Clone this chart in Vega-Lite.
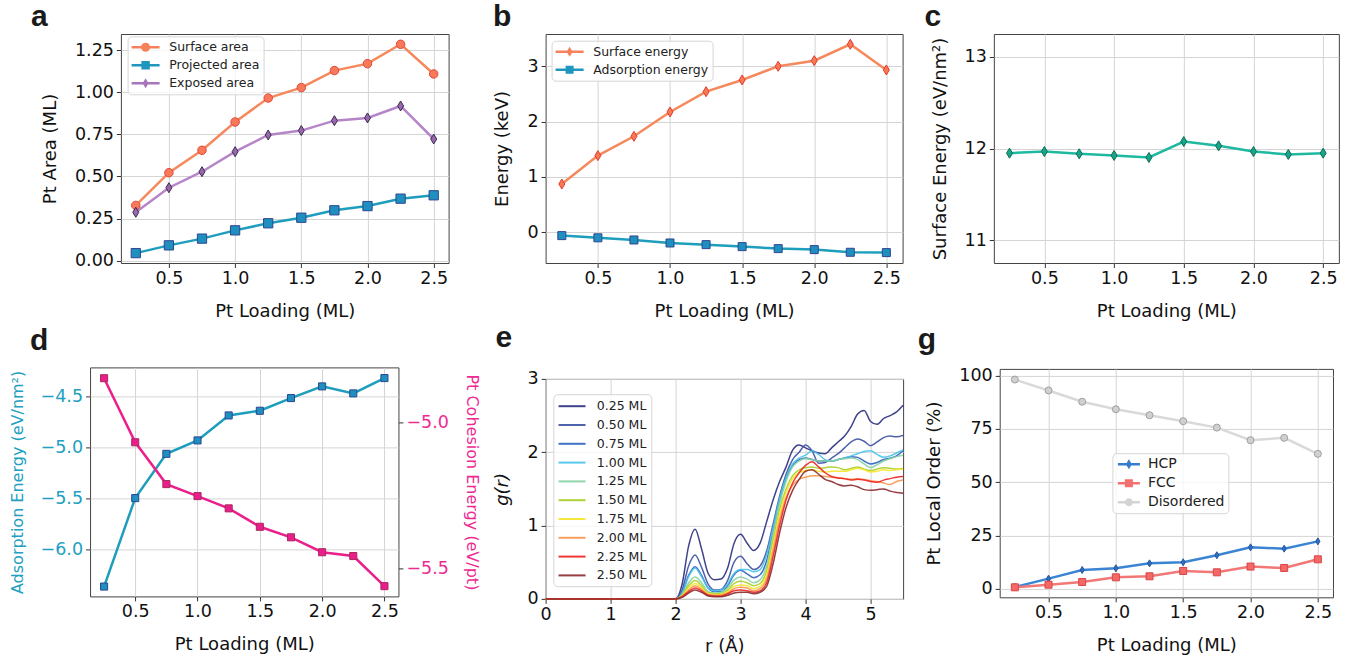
{
"$schema":"https://vega.github.io/schema/vega-lite/v6.json",
"background":"white",
"padding":{"left":8,"top":1,"right":4,"bottom":4},
"config":{
 "font":"DejaVu Sans",
 "view":{"stroke":"#444444","strokeWidth":1},
 "axis":{"domain":false,"grid":true,"gridColor":"#d4d4d4","gridWidth":1,"tickColor":"#333333","tickSize":4.5,"tickWidth":1,"labelFont":"DejaVu Sans","labelFontSize":17.5,"labelColor":"#111111","labelFlush":false,"labelOverlap":false,"titleFont":"DejaVu Sans","titleFontSize":18,"titleFontWeight":"normal","titleColor":"#111111"},
 "axisX":{"labelPadding":2,"titlePadding":15},
 "axisY":{"labelPadding":3,"titlePadding":15},
 "legend":{"labelFont":"DejaVu Sans","labelColor":"#222222"},
 "title":{"font":"Liberation Sans","fontSize":30,"fontWeight":"bold","anchor":"start","frame":"group","baseline":"alphabetic","color":"#1a1a1a"}
},
"spacing":11.6,
"resolve":{"scale":{"color":"independent","fill":"independent","stroke":"independent","shape":"independent","size":"independent"}},
"hconcat":[
 {"vconcat":[
  {"width":327.7,"height":229,
   "title":{"text":"a","dx":-90,"offset":2},
   "data":{"values":[
    {"L":0.25,"series":"Surface area","v":0.328},{"L":0.5,"series":"Surface area","v":0.522},{"L":0.75,"series":"Surface area","v":0.655},{"L":1,"series":"Surface area","v":0.823},{"L":1.25,"series":"Surface area","v":0.965},{"L":1.5,"series":"Surface area","v":1.027},{"L":1.75,"series":"Surface area","v":1.128},{"L":2,"series":"Surface area","v":1.169},{"L":2.25,"series":"Surface area","v":1.284},{"L":2.5,"series":"Surface area","v":1.108},
    {"L":0.25,"series":"Projected area","v":0.045},{"L":0.5,"series":"Projected area","v":0.091},{"L":0.75,"series":"Projected area","v":0.131},{"L":1,"series":"Projected area","v":0.18},{"L":1.25,"series":"Projected area","v":0.222},{"L":1.5,"series":"Projected area","v":0.255},{"L":1.75,"series":"Projected area","v":0.299},{"L":2,"series":"Projected area","v":0.324},{"L":2.25,"series":"Projected area","v":0.368},{"L":2.5,"series":"Projected area","v":0.388},
    {"L":0.25,"series":"Exposed area","v":0.287},{"L":0.5,"series":"Exposed area","v":0.433},{"L":0.75,"series":"Exposed area","v":0.528},{"L":1,"series":"Exposed area","v":0.647},{"L":1.25,"series":"Exposed area","v":0.746},{"L":1.5,"series":"Exposed area","v":0.772},{"L":1.75,"series":"Exposed area","v":0.831},{"L":2,"series":"Exposed area","v":0.847},{"L":2.25,"series":"Exposed area","v":0.918},{"L":2.5,"series":"Exposed area","v":0.722}
   ]},
   "encoding":{
    "x":{"field":"L","type":"quantitative","scale":{"domain":[0.1375,2.6125],"nice":false,"zero":false},"axis":{"values":[0.5,1,1.5,2,2.5],"format":".1f","title":"Pt Loading (ML)"}},
    "y":{"field":"v","type":"quantitative","scale":{"domain":[-0.0137,1.345],"nice":false,"zero":false},"axis":{"values":[0,0.25,0.5,0.75,1,1.25],"format":".2f","title":"Pt Area (ML)"}}
   },
   "layer":[
    {"mark":{"type":"line","strokeWidth":2.5},
     "encoding":{"color":{"field":"series","type":"nominal","scale":{"domain":["Surface area","Projected area","Exposed area"],"range":["#f5895c","#1e9dbd","#b685c8"]},
      "legend":{"title":null,"orient":"none","legendX":6.7,"legendY":2.3,"symbolSize":196,"symbolStrokeWidth":0,"labelOffset":23.6,"rowPadding":4,"padding":4,"fillColor":"rgba(255,255,255,0.8)","strokeColor":"#d6d6d6","cornerRadius":4,"labelFontSize":12.5,
       "encode":{"symbols":{"update":{"shape":{"signal":"datum.value === 'Surface area' ? 'M-1,-0.18H3V0.18H-1ZM1.65,0A0.65,0.65,0,1,1,0.35,0A0.65,0.65,0,1,1,1.65,0Z' : datum.value === 'Projected area' ? 'M-1,-0.18H3V0.18H-1ZM0.4,-0.6H1.6V0.6H0.4Z' : 'M-1,-0.18H3V0.18H-1ZM1,-0.72L1.43,0L1,0.72L0.57,0Z'"},"fill":{"signal":"datum.value === 'Surface area' ? '#f7815a' : datum.value === 'Projected area' ? '#1e96be' : '#a775bb'"},"strokeWidth":{"value":0},"fillOpacity":{"value":1},"opacity":{"value":1},"size":{"value":196}}}}}}}},
    {"mark":{"type":"point","filled":true,"opacity":1,"strokeWidth":1},
     "encoding":{
      "fill":{"field":"series","type":"nominal","scale":{"range":["#9867ae","#1f8fbf","#f97a5a"]},"legend":null},
      "stroke":{"field":"series","type":"nominal","scale":{"range":["#3b2b4b","#2d4690","#e0483a"]},"legend":null},
      "shape":{"field":"series","type":"nominal","scale":{"range":["M0,-1L0.6,0L0,1L-0.6,0Z","square","circle"]},"legend":null},
      "size":{"field":"series","type":"nominal","scale":{"range":[100,72,81]},"legend":null}
     }}
   ]
  },
  {"width":308.4,"height":229,
   "title":{"text":"d","dx":-60,"offset":11},
   "encoding":{"x":{"field":"L","type":"quantitative","scale":{"domain":[0.1375,2.6125],"nice":false,"zero":false},"axis":{"values":[0.5,1,1.5,2,2.5],"format":".1f","title":"Pt Loading (ML)"}}},
   "layer":[
    {"data":{"values":[{"L":0.25,"v":-6.369},{"L":0.5,"v":-5.498},{"L":0.75,"v":-5.062},{"L":1,"v":-4.93},{"L":1.25,"v":-4.684},{"L":1.5,"v":-4.638},{"L":1.75,"v":-4.513},{"L":2,"v":-4.398},{"L":2.25,"v":-4.467},{"L":2.5,"v":-4.316}]},
     "encoding":{"y":{"field":"v","type":"quantitative","scale":{"domain":[-6.466,-4.211],"nice":false,"zero":false},"axis":{"values":[-6,-5.5,-5,-4.5],"format":".1f","title":"Adsorption Energy (eV/nm²)","labelColor":"#22a0c0","titleColor":"#22a0c0","titleFontSize":16}}},
     "layer":[
      {"mark":{"type":"line","strokeWidth":2.5,"color":"#1e9dbd"}},
      {"mark":{"type":"point","shape":"square","filled":true,"opacity":1,"size":50,"fill":"#1f8fbf","stroke":"#2d4690","strokeWidth":1}}
     ]},
    {"data":{"values":[{"L":0.25,"w":-4.85},{"L":0.5,"w":-5.069},{"L":0.75,"w":-5.212},{"L":1,"w":-5.253},{"L":1.25,"w":-5.295},{"L":1.5,"w":-5.358},{"L":1.75,"w":-5.394},{"L":2,"w":-5.445},{"L":2.25,"w":-5.458},{"L":2.5,"w":-5.561}]},
     "encoding":{"y":{"field":"w","type":"quantitative","scale":{"domain":[-5.596,-4.813],"nice":false,"zero":false},"axis":{"orient":"right","grid":false,"values":[-5.5,-5],"format":".1f","title":"Pt Cohesion Energy (eV/pt)","labelColor":"#ee2a92","titleColor":"#ee2a92","titleFontSize":16}}},
     "layer":[
      {"mark":{"type":"line","strokeWidth":2.5,"color":"#ea1f8b"}},
      {"mark":{"type":"point","shape":"square","filled":true,"opacity":1,"size":50,"fill":"#e91e8c","stroke":"#a8285c","strokeWidth":1}}
     ]}
   ],
   "resolve":{"scale":{"y":"independent"}}
  }
 ],"spacing":4.4,"center":true,
 "resolve":{"scale":{"color":"independent","fill":"independent","stroke":"independent","shape":"independent","size":"independent"}}},
 {"hconcat":[
  {"vconcat":[
   {"width":357,"height":229,
    "title":{"text":"b","dx":-52.7,"offset":2},
    "data":{"values":[
     {"L":0.25,"series":"Surface energy","v":0.873},{"L":0.5,"series":"Surface energy","v":1.386},{"L":0.75,"series":"Surface energy","v":1.735},{"L":1,"series":"Surface energy","v":2.175},{"L":1.25,"series":"Surface energy","v":2.542},{"L":1.5,"series":"Surface energy","v":2.753},{"L":1.75,"series":"Surface energy","v":3.0},{"L":2,"series":"Surface energy","v":3.102},{"L":2.25,"series":"Surface energy","v":3.398},{"L":2.5,"series":"Surface energy","v":2.934},
     {"L":0.25,"series":"Adsorption energy","v":-0.06},{"L":0.5,"series":"Adsorption energy","v":-0.1},{"L":0.75,"series":"Adsorption energy","v":-0.139},{"L":1,"series":"Adsorption energy","v":-0.193},{"L":1.25,"series":"Adsorption energy","v":-0.223},{"L":1.5,"series":"Adsorption energy","v":-0.259},{"L":1.75,"series":"Adsorption energy","v":-0.295},{"L":2,"series":"Adsorption energy","v":-0.313},{"L":2.25,"series":"Adsorption energy","v":-0.361},{"L":2.5,"series":"Adsorption energy","v":-0.367}
    ]},
    "encoding":{
     "x":{"field":"L","type":"quantitative","scale":{"domain":[0.1375,2.6125],"nice":false,"zero":false},"axis":{"values":[0.5,1,1.5,2,2.5],"format":".1f","title":"Pt Loading (ML)"}},
     "y":{"field":"v","type":"quantitative","scale":{"domain":[-0.555,3.584],"nice":false,"zero":false},"axis":{"values":[0,1,2,3],"format":"d","title":"Energy (keV)"}}
    },
    "layer":[
     {"mark":{"type":"line","strokeWidth":2.5},
      "encoding":{"color":{"field":"series","type":"nominal","scale":{"domain":["Surface energy","Adsorption energy"],"range":["#f5895c","#1e9dbd"]},
       "legend":{"title":null,"orient":"none","legendX":6,"legendY":6.7,"symbolSize":196,"symbolStrokeWidth":0,"labelOffset":23.6,"rowPadding":4,"padding":4,"fillColor":"rgba(255,255,255,0.8)","strokeColor":"#d6d6d6","cornerRadius":4,"labelFontSize":12.5,
        "encode":{"symbols":{"update":{"shape":{"signal":"datum.value === 'Surface energy' ? 'M-1,-0.18H3V0.18H-1ZM1,-0.72L1.43,0L1,0.72L0.57,0Z' : 'M-1,-0.18H3V0.18H-1ZM0.43,-0.57H1.57V0.57H0.43Z'"},"fill":{"signal":"datum.value === 'Surface energy' ? '#f7815a' : '#1e96be'"},"strokeWidth":{"value":0},"fillOpacity":{"value":1},"opacity":{"value":1},"size":{"value":196}}}}}}}},
     {"mark":{"type":"point","filled":true,"opacity":1,"strokeWidth":1},
      "encoding":{
       "fill":{"field":"series","type":"nominal","scale":{"range":["#1f8fbf","#f77a55"]},"legend":null},
       "stroke":{"field":"series","type":"nominal","scale":{"range":["#2d4690","#e23b30"]},"legend":null},
       "shape":{"field":"series","type":"nominal","scale":{"range":["square","M0,-1L0.6,0L0,1L-0.6,0Z"]},"legend":null},
       "size":{"field":"series","type":"nominal","scale":{"range":[64,100]},"legend":null}
      }}
    ]
   },
   {"width":357.5,"height":220,
    "title":{"text":"e","dx":-50,"offset":17.3},
    "data":{"values":[
     {"r":0,"s":"0.25 ML","g":0},{"r":0,"s":"0.50 ML","g":0},{"r":0,"s":"0.75 ML","g":0},{"r":0,"s":"1.00 ML","g":0},{"r":0,"s":"1.25 ML","g":0},{"r":0,"s":"1.50 ML","g":0},{"r":0,"s":"1.75 ML","g":0},{"r":0,"s":"2.00 ML","g":0},{"r":0,"s":"2.25 ML","g":0},{"r":0,"s":"2.50 ML","g":0},
     {"r":2,"s":"0.25 ML","g":0},{"r":2,"s":"0.50 ML","g":0},{"r":2,"s":"0.75 ML","g":0},{"r":2,"s":"1.00 ML","g":0},{"r":2,"s":"1.25 ML","g":0},{"r":2,"s":"1.50 ML","g":0},{"r":2,"s":"1.75 ML","g":0},{"r":2,"s":"2.00 ML","g":0},{"r":2,"s":"2.25 ML","g":0},{"r":2,"s":"2.50 ML","g":0},
     {"r":2.1,"s":"0.25 ML","g":0.2},{"r":2.1,"s":"0.50 ML","g":0.12},{"r":2.1,"s":"0.75 ML","g":0.08},{"r":2.1,"s":"1.00 ML","g":0.08},{"r":2.1,"s":"1.25 ML","g":0.06},{"r":2.1,"s":"1.50 ML","g":0.05},{"r":2.1,"s":"1.75 ML","g":0.04},{"r":2.1,"s":"2.00 ML","g":0.035},{"r":2.1,"s":"2.25 ML","g":0.03},{"r":2.1,"s":"2.50 ML","g":0.02},
     {"r":2.2,"s":"0.25 ML","g":0.72},{"r":2.2,"s":"0.50 ML","g":0.45},{"r":2.2,"s":"0.75 ML","g":0.32},{"r":2.2,"s":"1.00 ML","g":0.3},{"r":2.2,"s":"1.25 ML","g":0.22},{"r":2.2,"s":"1.50 ML","g":0.18},{"r":2.2,"s":"1.75 ML","g":0.15},{"r":2.2,"s":"2.00 ML","g":0.12},{"r":2.2,"s":"2.25 ML","g":0.1},{"r":2.2,"s":"2.50 ML","g":0.08},
     {"r":2.3,"s":"0.25 ML","g":0.95},{"r":2.3,"s":"0.50 ML","g":0.6},{"r":2.3,"s":"0.75 ML","g":0.44},{"r":2.3,"s":"1.00 ML","g":0.42},{"r":2.3,"s":"1.25 ML","g":0.3},{"r":2.3,"s":"1.50 ML","g":0.25},{"r":2.3,"s":"1.75 ML","g":0.21},{"r":2.3,"s":"2.00 ML","g":0.18},{"r":2.3,"s":"2.25 ML","g":0.15},{"r":2.3,"s":"2.50 ML","g":0.12},
     {"r":2.4,"s":"0.25 ML","g":0.68},{"r":2.4,"s":"0.50 ML","g":0.43},{"r":2.4,"s":"0.75 ML","g":0.32},{"r":2.4,"s":"1.00 ML","g":0.3},{"r":2.4,"s":"1.25 ML","g":0.22},{"r":2.4,"s":"1.50 ML","g":0.18},{"r":2.4,"s":"1.75 ML","g":0.15},{"r":2.4,"s":"2.00 ML","g":0.13},{"r":2.4,"s":"2.25 ML","g":0.11},{"r":2.4,"s":"2.50 ML","g":0.09},
     {"r":2.5,"s":"0.25 ML","g":0.35},{"r":2.5,"s":"0.50 ML","g":0.2},{"r":2.5,"s":"0.75 ML","g":0.15},{"r":2.5,"s":"1.00 ML","g":0.15},{"r":2.5,"s":"1.25 ML","g":0.1},{"r":2.5,"s":"1.50 ML","g":0.08},{"r":2.5,"s":"1.75 ML","g":0.07},{"r":2.5,"s":"2.00 ML","g":0.06},{"r":2.5,"s":"2.25 ML","g":0.05},{"r":2.5,"s":"2.50 ML","g":0.04},
     {"r":2.6,"s":"0.25 ML","g":0.26},{"r":2.6,"s":"0.50 ML","g":0.12},{"r":2.6,"s":"0.75 ML","g":0.1},{"r":2.6,"s":"1.00 ML","g":0.11},{"r":2.6,"s":"1.25 ML","g":0.08},{"r":2.6,"s":"1.50 ML","g":0.07},{"r":2.6,"s":"1.75 ML","g":0.06},{"r":2.6,"s":"2.00 ML","g":0.05},{"r":2.6,"s":"2.25 ML","g":0.04},{"r":2.6,"s":"2.50 ML","g":0.03},
     {"r":2.7,"s":"0.25 ML","g":0.27},{"r":2.7,"s":"0.50 ML","g":0.13},{"r":2.7,"s":"0.75 ML","g":0.1},{"r":2.7,"s":"1.00 ML","g":0.12},{"r":2.7,"s":"1.25 ML","g":0.09},{"r":2.7,"s":"1.50 ML","g":0.07},{"r":2.7,"s":"1.75 ML","g":0.06},{"r":2.7,"s":"2.00 ML","g":0.05},{"r":2.7,"s":"2.25 ML","g":0.04},{"r":2.7,"s":"2.50 ML","g":0.03},
     {"r":2.8,"s":"0.25 ML","g":0.42},{"r":2.8,"s":"0.50 ML","g":0.25},{"r":2.8,"s":"0.75 ML","g":0.18},{"r":2.8,"s":"1.00 ML","g":0.2},{"r":2.8,"s":"1.25 ML","g":0.15},{"r":2.8,"s":"1.50 ML","g":0.12},{"r":2.8,"s":"1.75 ML","g":0.1},{"r":2.8,"s":"2.00 ML","g":0.08},{"r":2.8,"s":"2.25 ML","g":0.07},{"r":2.8,"s":"2.50 ML","g":0.05},
     {"r":2.9,"s":"0.25 ML","g":0.76},{"r":2.9,"s":"0.50 ML","g":0.5},{"r":2.9,"s":"0.75 ML","g":0.33},{"r":2.9,"s":"1.00 ML","g":0.35},{"r":2.9,"s":"1.25 ML","g":0.26},{"r":2.9,"s":"1.50 ML","g":0.21},{"r":2.9,"s":"1.75 ML","g":0.17},{"r":2.9,"s":"2.00 ML","g":0.14},{"r":2.9,"s":"2.25 ML","g":0.11},{"r":2.9,"s":"2.50 ML","g":0.08},
     {"r":3.0,"s":"0.25 ML","g":0.88},{"r":3.0,"s":"0.50 ML","g":0.58},{"r":3.0,"s":"0.75 ML","g":0.39},{"r":3.0,"s":"1.00 ML","g":0.4},{"r":3.0,"s":"1.25 ML","g":0.3},{"r":3.0,"s":"1.50 ML","g":0.24},{"r":3.0,"s":"1.75 ML","g":0.19},{"r":3.0,"s":"2.00 ML","g":0.16},{"r":3.0,"s":"2.25 ML","g":0.12},{"r":3.0,"s":"2.50 ML","g":0.09},
     {"r":3.1,"s":"0.25 ML","g":0.76},{"r":3.1,"s":"0.50 ML","g":0.48},{"r":3.1,"s":"0.75 ML","g":0.34},{"r":3.1,"s":"1.00 ML","g":0.4},{"r":3.1,"s":"1.25 ML","g":0.27},{"r":3.1,"s":"1.50 ML","g":0.22},{"r":3.1,"s":"1.75 ML","g":0.18},{"r":3.1,"s":"2.00 ML","g":0.15},{"r":3.1,"s":"2.25 ML","g":0.11},{"r":3.1,"s":"2.50 ML","g":0.09},
     {"r":3.2,"s":"0.25 ML","g":0.66},{"r":3.2,"s":"0.50 ML","g":0.4},{"r":3.2,"s":"0.75 ML","g":0.29},{"r":3.2,"s":"1.00 ML","g":0.37},{"r":3.2,"s":"1.25 ML","g":0.22},{"r":3.2,"s":"1.50 ML","g":0.18},{"r":3.2,"s":"1.75 ML","g":0.14},{"r":3.2,"s":"2.00 ML","g":0.11},{"r":3.2,"s":"2.25 ML","g":0.09},{"r":3.2,"s":"2.50 ML","g":0.07},
     {"r":3.3,"s":"0.25 ML","g":0.76},{"r":3.3,"s":"0.50 ML","g":0.45},{"r":3.3,"s":"0.75 ML","g":0.33},{"r":3.3,"s":"1.00 ML","g":0.4},{"r":3.3,"s":"1.25 ML","g":0.26},{"r":3.3,"s":"1.50 ML","g":0.21},{"r":3.3,"s":"1.75 ML","g":0.17},{"r":3.3,"s":"2.00 ML","g":0.14},{"r":3.3,"s":"2.25 ML","g":0.11},{"r":3.3,"s":"2.50 ML","g":0.09},
     {"r":3.4,"s":"0.25 ML","g":1.05},{"r":3.4,"s":"0.50 ML","g":0.65},{"r":3.4,"s":"0.75 ML","g":0.52},{"r":3.4,"s":"1.00 ML","g":0.6},{"r":3.4,"s":"1.25 ML","g":0.45},{"r":3.4,"s":"1.50 ML","g":0.38},{"r":3.4,"s":"1.75 ML","g":0.32},{"r":3.4,"s":"2.00 ML","g":0.27},{"r":3.4,"s":"2.25 ML","g":0.22},{"r":3.4,"s":"2.50 ML","g":0.17},
     {"r":3.5,"s":"0.25 ML","g":1.35},{"r":3.5,"s":"0.50 ML","g":1.02},{"r":3.5,"s":"0.75 ML","g":0.95},{"r":3.5,"s":"1.00 ML","g":0.97},{"r":3.5,"s":"1.25 ML","g":0.88},{"r":3.5,"s":"1.50 ML","g":0.8},{"r":3.5,"s":"1.75 ML","g":0.73},{"r":3.5,"s":"2.00 ML","g":0.66},{"r":3.5,"s":"2.25 ML","g":0.58},{"r":3.5,"s":"2.50 ML","g":0.48},
     {"r":3.6,"s":"0.25 ML","g":1.6},{"r":3.6,"s":"0.50 ML","g":1.4},{"r":3.6,"s":"0.75 ML","g":1.35},{"r":3.6,"s":"1.00 ML","g":1.37},{"r":3.6,"s":"1.25 ML","g":1.3},{"r":3.6,"s":"1.50 ML","g":1.22},{"r":3.6,"s":"1.75 ML","g":1.15},{"r":3.6,"s":"2.00 ML","g":1.08},{"r":3.6,"s":"2.25 ML","g":1.0},{"r":3.6,"s":"2.50 ML","g":0.9},
     {"r":3.7,"s":"0.25 ML","g":1.8},{"r":3.7,"s":"0.50 ML","g":1.7},{"r":3.7,"s":"0.75 ML","g":1.65},{"r":3.7,"s":"1.00 ML","g":1.66},{"r":3.7,"s":"1.25 ML","g":1.6},{"r":3.7,"s":"1.50 ML","g":1.5},{"r":3.7,"s":"1.75 ML","g":1.45},{"r":3.7,"s":"2.00 ML","g":1.38},{"r":3.7,"s":"2.25 ML","g":1.35},{"r":3.7,"s":"2.50 ML","g":1.25},
     {"r":3.8,"s":"0.25 ML","g":2.03},{"r":3.8,"s":"0.50 ML","g":1.9},{"r":3.8,"s":"0.75 ML","g":1.82},{"r":3.8,"s":"1.00 ML","g":1.84},{"r":3.8,"s":"1.25 ML","g":1.8},{"r":3.8,"s":"1.50 ML","g":1.68},{"r":3.8,"s":"1.75 ML","g":1.64},{"r":3.8,"s":"2.00 ML","g":1.55},{"r":3.8,"s":"2.25 ML","g":1.58},{"r":3.8,"s":"2.50 ML","g":1.48},
     {"r":3.9,"s":"0.25 ML","g":2.1},{"r":3.9,"s":"0.50 ML","g":2.0},{"r":3.9,"s":"0.75 ML","g":1.9},{"r":3.9,"s":"1.00 ML","g":1.92},{"r":3.9,"s":"1.25 ML","g":1.88},{"r":3.9,"s":"1.50 ML","g":1.76},{"r":3.9,"s":"1.75 ML","g":1.72},{"r":3.9,"s":"2.00 ML","g":1.63},{"r":3.9,"s":"2.25 ML","g":1.72},{"r":3.9,"s":"2.50 ML","g":1.63},
     {"r":4.0,"s":"0.25 ML","g":2.06},{"r":4.0,"s":"0.50 ML","g":2.1},{"r":4.0,"s":"0.75 ML","g":1.92},{"r":4.0,"s":"1.00 ML","g":1.96},{"r":4.0,"s":"1.25 ML","g":1.91},{"r":4.0,"s":"1.50 ML","g":1.79},{"r":4.0,"s":"1.75 ML","g":1.75},{"r":4.0,"s":"2.00 ML","g":1.66},{"r":4.0,"s":"2.25 ML","g":1.82},{"r":4.0,"s":"2.50 ML","g":1.74},
     {"r":4.1,"s":"0.25 ML","g":2.02},{"r":4.1,"s":"0.50 ML","g":2.02},{"r":4.1,"s":"0.75 ML","g":1.9},{"r":4.1,"s":"1.00 ML","g":2.02},{"r":4.1,"s":"1.25 ML","g":1.9},{"r":4.1,"s":"1.50 ML","g":1.8},{"r":4.1,"s":"1.75 ML","g":1.76},{"r":4.1,"s":"2.00 ML","g":1.68},{"r":4.1,"s":"2.25 ML","g":1.87},{"r":4.1,"s":"2.50 ML","g":1.76},
     {"r":4.2,"s":"0.25 ML","g":1.99},{"r":4.2,"s":"0.50 ML","g":1.85},{"r":4.2,"s":"0.75 ML","g":1.88},{"r":4.2,"s":"1.00 ML","g":1.97},{"r":4.2,"s":"1.25 ML","g":1.88},{"r":4.2,"s":"1.50 ML","g":1.78},{"r":4.2,"s":"1.75 ML","g":1.74},{"r":4.2,"s":"2.00 ML","g":1.68},{"r":4.2,"s":"2.25 ML","g":1.8},{"r":4.2,"s":"2.50 ML","g":1.7},
     {"r":4.3,"s":"0.25 ML","g":1.98},{"r":4.3,"s":"0.50 ML","g":1.86},{"r":4.3,"s":"0.75 ML","g":1.88},{"r":4.3,"s":"1.00 ML","g":1.9},{"r":4.3,"s":"1.25 ML","g":1.88},{"r":4.3,"s":"1.50 ML","g":1.79},{"r":4.3,"s":"1.75 ML","g":1.73},{"r":4.3,"s":"2.00 ML","g":1.67},{"r":4.3,"s":"2.25 ML","g":1.72},{"r":4.3,"s":"2.50 ML","g":1.63},
     {"r":4.4,"s":"0.25 ML","g":2.06},{"r":4.4,"s":"0.50 ML","g":1.92},{"r":4.4,"s":"0.75 ML","g":1.88},{"r":4.4,"s":"1.00 ML","g":1.88},{"r":4.4,"s":"1.25 ML","g":1.88},{"r":4.4,"s":"1.50 ML","g":1.8},{"r":4.4,"s":"1.75 ML","g":1.74},{"r":4.4,"s":"2.00 ML","g":1.66},{"r":4.4,"s":"2.25 ML","g":1.67},{"r":4.4,"s":"2.50 ML","g":1.6},
     {"r":4.5,"s":"0.25 ML","g":2.14},{"r":4.5,"s":"0.50 ML","g":1.98},{"r":4.5,"s":"0.75 ML","g":1.9},{"r":4.5,"s":"1.00 ML","g":1.9},{"r":4.5,"s":"1.25 ML","g":1.9},{"r":4.5,"s":"1.50 ML","g":1.79},{"r":4.5,"s":"1.75 ML","g":1.74},{"r":4.5,"s":"2.00 ML","g":1.65},{"r":4.5,"s":"2.25 ML","g":1.65},{"r":4.5,"s":"2.50 ML","g":1.56},
     {"r":4.6,"s":"0.25 ML","g":2.22},{"r":4.6,"s":"0.50 ML","g":2.06},{"r":4.6,"s":"0.75 ML","g":1.92},{"r":4.6,"s":"1.00 ML","g":1.92},{"r":4.6,"s":"1.25 ML","g":1.91},{"r":4.6,"s":"1.50 ML","g":1.76},{"r":4.6,"s":"1.75 ML","g":1.74},{"r":4.6,"s":"2.00 ML","g":1.64},{"r":4.6,"s":"2.25 ML","g":1.64},{"r":4.6,"s":"2.50 ML","g":1.54},
     {"r":4.7,"s":"0.25 ML","g":2.35},{"r":4.7,"s":"0.50 ML","g":2.14},{"r":4.7,"s":"0.75 ML","g":1.94},{"r":4.7,"s":"1.00 ML","g":1.95},{"r":4.7,"s":"1.25 ML","g":1.92},{"r":4.7,"s":"1.50 ML","g":1.78},{"r":4.7,"s":"1.75 ML","g":1.76},{"r":4.7,"s":"2.00 ML","g":1.63},{"r":4.7,"s":"2.25 ML","g":1.62},{"r":4.7,"s":"2.50 ML","g":1.55},
     {"r":4.8,"s":"0.25 ML","g":2.52},{"r":4.8,"s":"0.50 ML","g":2.18},{"r":4.8,"s":"0.75 ML","g":1.93},{"r":4.8,"s":"1.00 ML","g":1.98},{"r":4.8,"s":"1.25 ML","g":1.9},{"r":4.8,"s":"1.50 ML","g":1.8},{"r":4.8,"s":"1.75 ML","g":1.78},{"r":4.8,"s":"2.00 ML","g":1.64},{"r":4.8,"s":"2.25 ML","g":1.63},{"r":4.8,"s":"2.50 ML","g":1.53},
     {"r":4.9,"s":"0.25 ML","g":2.57},{"r":4.9,"s":"0.50 ML","g":2.15},{"r":4.9,"s":"0.75 ML","g":1.88},{"r":4.9,"s":"1.00 ML","g":2.01},{"r":4.9,"s":"1.25 ML","g":1.84},{"r":4.9,"s":"1.50 ML","g":1.77},{"r":4.9,"s":"1.75 ML","g":1.76},{"r":4.9,"s":"2.00 ML","g":1.63},{"r":4.9,"s":"2.25 ML","g":1.62},{"r":4.9,"s":"2.50 ML","g":1.49},
     {"r":5.0,"s":"0.25 ML","g":2.42},{"r":5.0,"s":"0.50 ML","g":2.09},{"r":5.0,"s":"0.75 ML","g":1.84},{"r":5.0,"s":"1.00 ML","g":2.02},{"r":5.0,"s":"1.25 ML","g":1.79},{"r":5.0,"s":"1.50 ML","g":1.75},{"r":5.0,"s":"1.75 ML","g":1.73},{"r":5.0,"s":"2.00 ML","g":1.61},{"r":5.0,"s":"2.25 ML","g":1.6},{"r":5.0,"s":"2.50 ML","g":1.48},
     {"r":5.1,"s":"0.25 ML","g":2.38},{"r":5.1,"s":"0.50 ML","g":2.14},{"r":5.1,"s":"0.75 ML","g":1.86},{"r":5.1,"s":"1.00 ML","g":1.97},{"r":5.1,"s":"1.25 ML","g":1.83},{"r":5.1,"s":"1.50 ML","g":1.77},{"r":5.1,"s":"1.75 ML","g":1.74},{"r":5.1,"s":"2.00 ML","g":1.6},{"r":5.1,"s":"2.25 ML","g":1.59},{"r":5.1,"s":"2.50 ML","g":1.49},
     {"r":5.2,"s":"0.25 ML","g":2.46},{"r":5.2,"s":"0.50 ML","g":2.2},{"r":5.2,"s":"0.75 ML","g":1.9},{"r":5.2,"s":"1.00 ML","g":1.93},{"r":5.2,"s":"1.25 ML","g":1.88},{"r":5.2,"s":"1.50 ML","g":1.79},{"r":5.2,"s":"1.75 ML","g":1.76},{"r":5.2,"s":"2.00 ML","g":1.58},{"r":5.2,"s":"2.25 ML","g":1.62},{"r":5.2,"s":"2.50 ML","g":1.5},
     {"r":5.3,"s":"0.25 ML","g":2.5},{"r":5.3,"s":"0.50 ML","g":2.22},{"r":5.3,"s":"0.75 ML","g":1.92},{"r":5.3,"s":"1.00 ML","g":1.95},{"r":5.3,"s":"1.25 ML","g":1.91},{"r":5.3,"s":"1.50 ML","g":1.78},{"r":5.3,"s":"1.75 ML","g":1.75},{"r":5.3,"s":"2.00 ML","g":1.56},{"r":5.3,"s":"2.25 ML","g":1.64},{"r":5.3,"s":"2.50 ML","g":1.47},
     {"r":5.4,"s":"0.25 ML","g":2.55},{"r":5.4,"s":"0.50 ML","g":2.21},{"r":5.4,"s":"0.75 ML","g":1.95},{"r":5.4,"s":"1.00 ML","g":1.99},{"r":5.4,"s":"1.25 ML","g":1.94},{"r":5.4,"s":"1.50 ML","g":1.77},{"r":5.4,"s":"1.75 ML","g":1.76},{"r":5.4,"s":"2.00 ML","g":1.6},{"r":5.4,"s":"2.25 ML","g":1.66},{"r":5.4,"s":"2.50 ML","g":1.45},
     {"r":5.5,"s":"0.25 ML","g":2.64},{"r":5.5,"s":"0.50 ML","g":2.23},{"r":5.5,"s":"0.75 ML","g":2.02},{"r":5.5,"s":"1.00 ML","g":2.03},{"r":5.5,"s":"1.25 ML","g":1.96},{"r":5.5,"s":"1.50 ML","g":1.78},{"r":5.5,"s":"1.75 ML","g":1.77},{"r":5.5,"s":"2.00 ML","g":1.62},{"r":5.5,"s":"2.25 ML","g":1.67},{"r":5.5,"s":"2.50 ML","g":1.44}
    ]},
    "mark":{"type":"line","strokeWidth":1.5,"interpolate":"monotone","opacity":0.9},
    "encoding":{
     "x":{"field":"r","type":"quantitative","scale":{"domain":[0,5.5],"nice":false,"zero":false},"axis":{"values":[0,1,2,3,4,5],"format":"d","title":"r (Å)"}},
     "y":{"field":"g","type":"quantitative","scale":{"domain":[0,3],"nice":false},"axis":{"values":[0,1,2,3],"format":"d","title":"g(r)","titleFontStyle":"italic"}},
     "color":{"field":"s","type":"nominal","scale":{"domain":["0.25 ML","0.50 ML","0.75 ML","1.00 ML","1.25 ML","1.50 ML","1.75 ML","2.00 ML","2.25 ML","2.50 ML"],"range":["#2b2f7f","#3d52a1","#2e62c0","#48c3ec","#88d1a4","#a8cf22","#f5e52a","#f7964d","#ee2222","#8a2a2e"]},
      "legend":{"title":null,"orient":"none","legendX":7.7,"legendY":15.3,"symbolType":"M-1,0H3","symbolSize":182,"symbolStrokeWidth":2,"labelOffset":23.5,"rowPadding":3.8,"padding":4,"fillColor":"rgba(255,255,255,0.8)","strokeColor":"#d6d6d6","cornerRadius":4,"labelFontSize":12.5}}
    }
   }
  ],"spacing":0.9,
  "resolve":{"scale":{"color":"independent","fill":"independent","stroke":"independent","shape":"independent","size":"independent"}}},
  {"vconcat":[
   {"width":345,"height":229,
    "title":{"text":"c","dx":-69.3,"offset":2},
    "data":{"values":[{"L":0.25,"v":11.949},{"L":0.5,"v":11.967},{"L":0.75,"v":11.942},{"L":1,"v":11.924},{"L":1.25,"v":11.902},{"L":1.5,"v":12.076},{"L":1.75,"v":12.029},{"L":2,"v":11.967},{"L":2.25,"v":11.935},{"L":2.5,"v":11.949}]},
    "encoding":{
     "x":{"field":"L","type":"quantitative","scale":{"domain":[0.1375,2.6125],"nice":false,"zero":false},"axis":{"values":[0.5,1,1.5,2,2.5],"format":".1f","title":"Pt Loading (ML)"}},
     "y":{"field":"v","type":"quantitative","scale":{"domain":[10.75,13.25],"nice":false,"zero":false},"axis":{"values":[11,12,13],"format":"d","title":"Surface Energy (eV/nm²)"}}
    },
    "layer":[
     {"mark":{"type":"line","strokeWidth":2.5,"color":"#1fb8a0"}},
     {"mark":{"type":"point","shape":"M0,-1L0.6,0L0,1L-0.6,0Z","filled":true,"opacity":1,"size":100,"fill":"#17a68a","stroke":"#0c6a55","strokeWidth":1}}
    ]
   },
   {"width":333.3,"height":228.4,
    "title":{"text":"g","dx":-82,"offset":11.6},
    "data":{"values":[
     {"L":0.25,"series":"HCP","v":0.94},{"L":0.5,"series":"HCP","v":4.84},{"L":0.75,"series":"HCP","v":8.9},{"L":1,"series":"HCP","v":9.7},{"L":1.25,"series":"HCP","v":12.0},{"L":1.5,"series":"HCP","v":12.5},{"L":1.75,"series":"HCP","v":15.8},{"L":2,"series":"HCP","v":19.5},{"L":2.25,"series":"HCP","v":18.9},{"L":2.5,"series":"HCP","v":22.3},
     {"L":0.25,"series":"FCC","v":0.78},{"L":0.5,"series":"FCC","v":2.03},{"L":0.75,"series":"FCC","v":3.28},{"L":1,"series":"FCC","v":5.47},{"L":1.25,"series":"FCC","v":5.94},{"L":1.5,"series":"FCC","v":8.44},{"L":1.75,"series":"FCC","v":7.81},{"L":2,"series":"FCC","v":10.5},{"L":2.25,"series":"FCC","v":9.84},{"L":2.5,"series":"FCC","v":13.9},
     {"L":0.25,"series":"Disordered","v":98.1},{"L":0.5,"series":"Disordered","v":93.0},{"L":0.75,"series":"Disordered","v":87.7},{"L":1,"series":"Disordered","v":84.2},{"L":1.25,"series":"Disordered","v":81.4},{"L":1.5,"series":"Disordered","v":78.6},{"L":1.75,"series":"Disordered","v":75.6},{"L":2,"series":"Disordered","v":69.7},{"L":2.25,"series":"Disordered","v":70.8},{"L":2.5,"series":"Disordered","v":63.3}
    ]},
    "encoding":{
     "x":{"field":"L","type":"quantitative","scale":{"domain":[0.1375,2.6125],"nice":false,"zero":false},"axis":{"values":[0.5,1,1.5,2,2.5],"format":".1f","title":"Pt Loading (ML)"}},
     "y":{"field":"v","type":"quantitative","scale":{"domain":[-3.9,103.1],"nice":false,"zero":false},"axis":{"values":[0,25,50,75,100],"format":"d","title":"Pt Local Order (%)"}}
    },
    "layer":[
     {"mark":{"type":"line","strokeWidth":2.5},
      "encoding":{"color":{"field":"series","type":"nominal","scale":{"domain":["HCP","FCC","Disordered"],"range":["#3b84d4","#f27777","#d9d9d9"]},
       "legend":{"title":null,"orient":"none","legendX":112.7,"legendY":84.3,"symbolSize":121,"symbolStrokeWidth":0,"labelOffset":17.5,"rowPadding":5,"padding":4,"fillColor":"rgba(255,255,255,0.8)","strokeColor":"#d6d6d6","cornerRadius":4,"labelFontSize":14,
        "encode":{"symbols":{"update":{"shape":{"signal":"datum.value === 'HCP' ? 'M-1,-0.23H3V0.23H-1ZM1,-0.91L1.55,0L1,0.91L0.45,0Z' : datum.value === 'FCC' ? 'M-1,-0.23H3V0.23H-1ZM0.27,-0.73H1.73V0.73H0.27Z' : 'M-1,-0.23H3V0.23H-1ZM1.73,0A0.73,0.73,0,1,1,0.27,0A0.73,0.73,0,1,1,1.73,0Z'"},"fill":{"signal":"datum.value === 'HCP' ? '#357ccb' : datum.value === 'FCC' ? '#f47070' : '#d4d4d4'"},"strokeWidth":{"value":0},"fillOpacity":{"value":1},"opacity":{"value":1},"size":{"value":121}}}}}}}},
     {"mark":{"type":"point","filled":true,"opacity":1,"strokeWidth":1},
      "encoding":{
       "fill":{"field":"series","type":"nominal","scale":{"range":["#d0d0d0","#f56868","#2f6fc2"]},"legend":null},
       "stroke":{"field":"series","type":"nominal","scale":{"range":["#a0a0a0","#d94545","#2455a0"]},"legend":null},
       "shape":{"field":"series","type":"nominal","scale":{"range":["circle","square","M0,-1L0.6,0L0,1L-0.6,0Z"]},"legend":null},
       "size":{"field":"series","type":"nominal","scale":{"range":[49,49,81]},"legend":null}
      }}
    ]
   }
  ],"spacing":2.9,"center":true,
  "resolve":{"scale":{"color":"independent","fill":"independent","stroke":"independent","shape":"independent","size":"independent"}}}
 ],"spacing":10,
 "resolve":{"scale":{"color":"independent","fill":"independent","stroke":"independent","shape":"independent","size":"independent"}}}
]
}
